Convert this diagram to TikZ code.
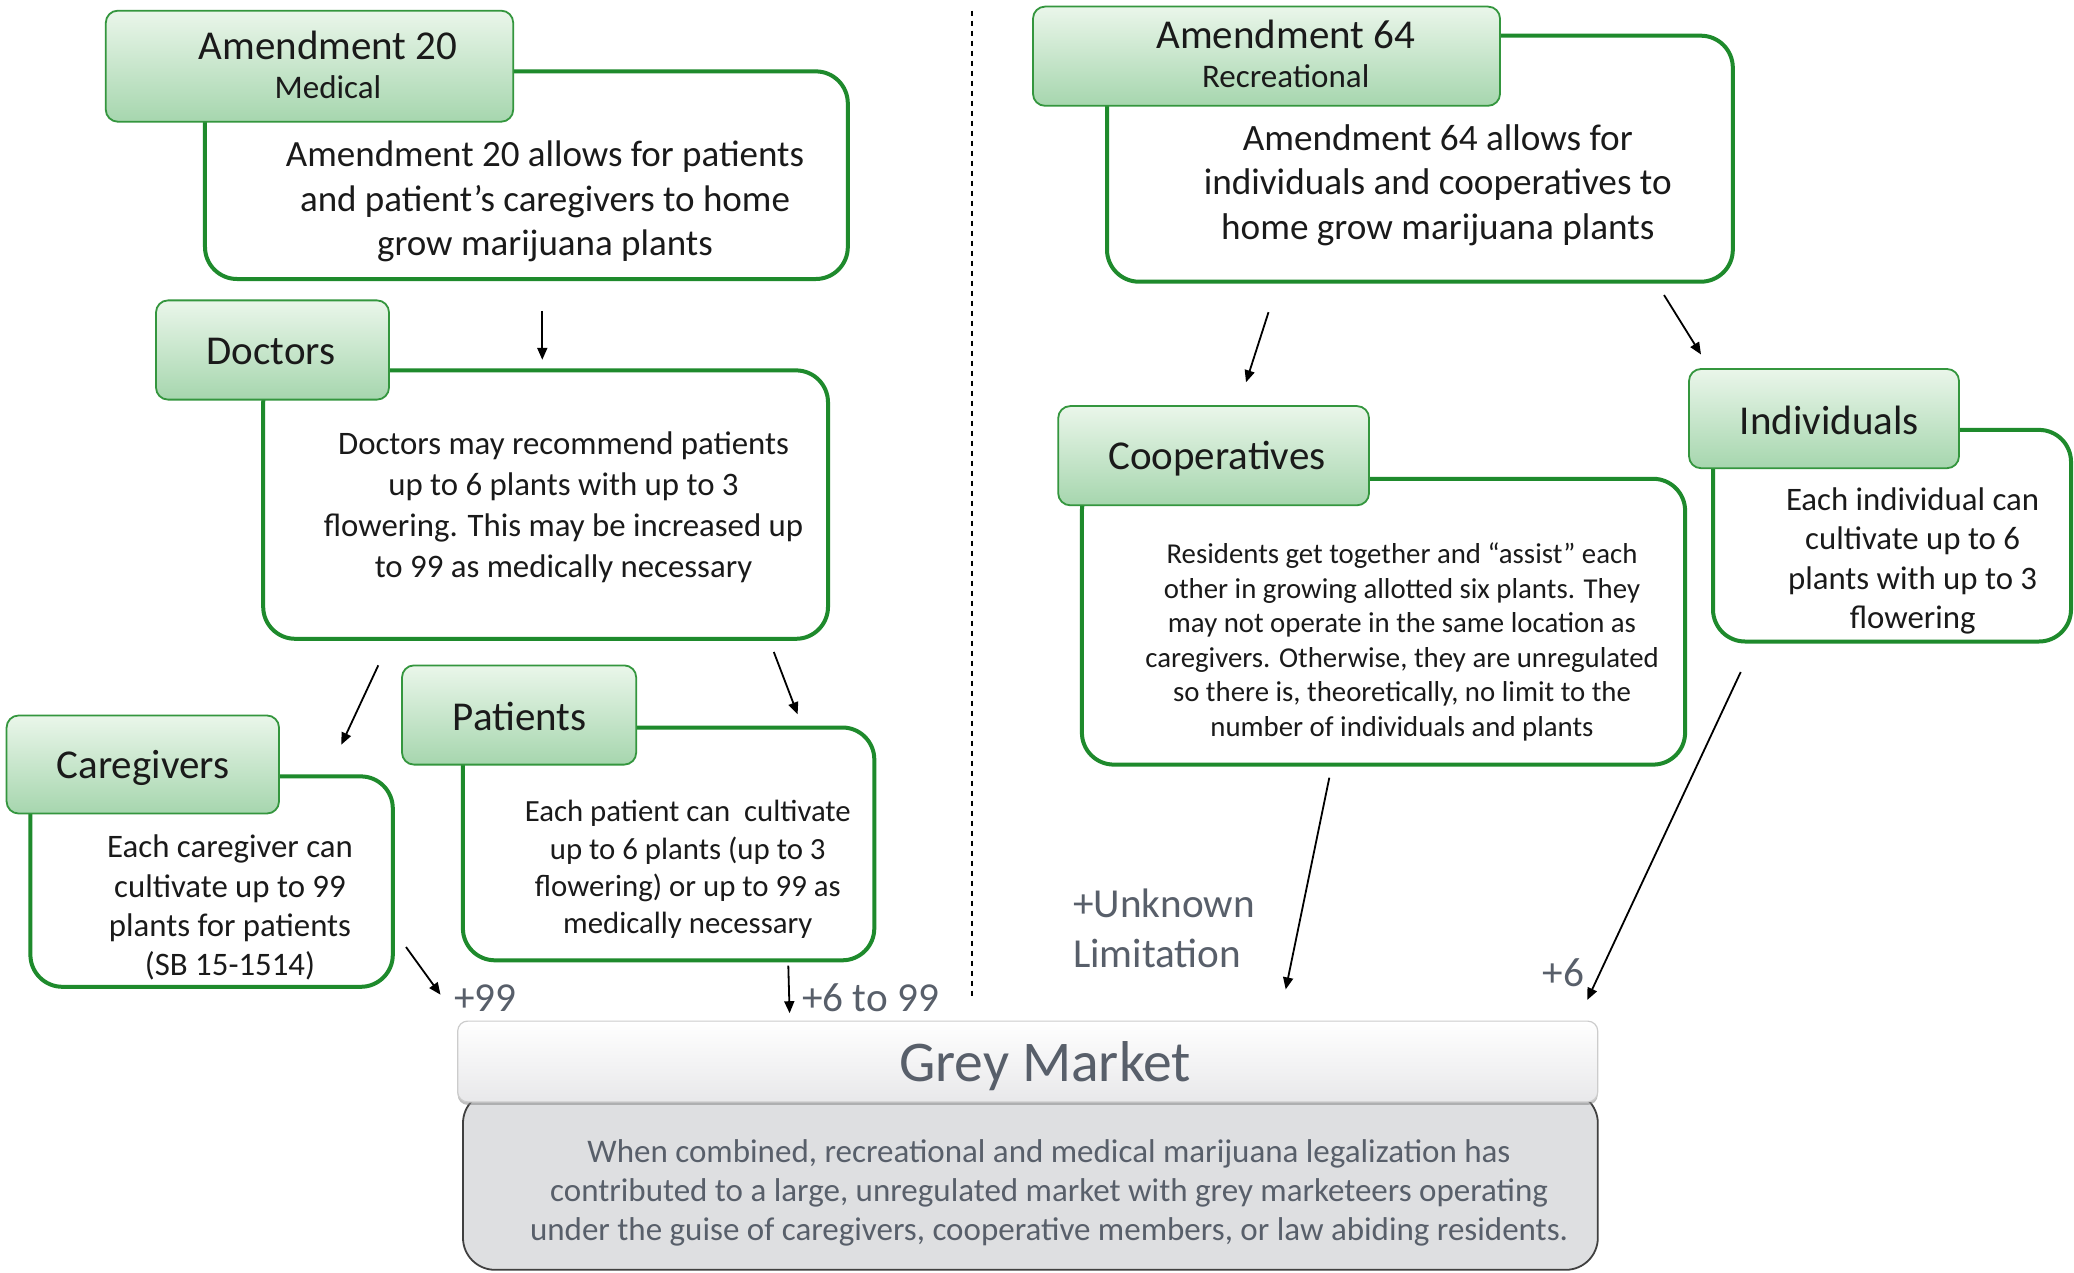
\documentclass[tikz,border=0pt]{standalone}
\usepackage{fontspec}
\setmainfont{Carlito}
\usetikzlibrary{arrows.meta,shadows}
\definecolor{gbord}{RGB}{30,138,44}
\definecolor{hbord}{RGB}{52,150,62}
\definecolor{htop}{RGB}{234,246,234}
\definecolor{hbot}{RGB}{166,214,174}
\definecolor{txt}{RGB}{26,26,26}
\definecolor{gtxt}{RGB}{88,95,106}
\definecolor{gfill}{RGB}{222,223,225}
\definecolor{gtop}{RGB}{255,255,255}
\definecolor{gbot}{RGB}{232,232,234}
\newcommand{\fs}[2]{\fontsize{#1bp}{#2bp}\selectfont}
\tikzset{
  bodybox/.style={draw=gbord, line width=2bp, rounded corners=16bp, fill=white, inner sep=0pt},
  headbox/.style={draw=hbord, line width=0.9bp, rounded corners=6bp, top color=htop, bottom color=hbot, inner sep=0pt},
  txtnode/.style={text=txt, align=center, inner sep=0pt},
  lbl/.style={text=gtxt, inner sep=0pt, font=\fs{20.6}{25}},
  arr/.style={-{Triangle[length=6bp,width=5bp]}, line width=0.9bp, black},
}
\begin{document}
\begin{tikzpicture}[x=0.5bp,y=-0.5bp]
\useasboundingbox[fill=white] (0,0) rectangle (2074,1273);

% dashed separator
\coordinate (dtop) at (972,10.6);
\coordinate (dbot) at (972,998.6);
\draw[dash pattern=on 2.5bp off 2.5bp, line width=0.6bp] (dtop) -- (dbot);

% ---------- Amendment 20
\node[bodybox, minimum width=321.4bp, minimum height=103.8bp] (a20b) at (526.4,175.2) {};
\node[headbox, minimum width=203.7bp, minimum height=55.5bp] (a20h) at (309.5,66.2) {};
\node[txtnode, font=\fs{20.5}{24}] (a20t1) at (328,45) {Amendment 20};
\node[txtnode, font=\fs{16.5}{20}] (a20t2) at (328,87) {Medical};
\node[txtnode, font=\fs{18.5}{22.2}] (a20x) at (545,201.5) {Amendment 20 allows for patients\\and patient’s caregivers to home\\grow marijuana plants};

% ---------- Doctors
\node[bodybox, minimum width=282.4bp, minimum height=134.2bp] (docb) at (545.6,504.6) {};
\node[headbox, minimum width=116.5bp, minimum height=49.6bp] (doch) at (272.5,350) {};
\node[txtnode, font=\fs{20.5}{24}] (doct) at (271,351.5) {Doctors};
\node[txtnode, font=\fs{16.4}{20.5}] (docx) at (563.5,507) {Doctors may recommend patients\\up to 6 plants with up to 3\\flowering. This may be increased up\\to 99 as medically necessary};

% ---------- Caregivers
\node[bodybox, minimum width=181.2bp, minimum height=105.2bp] (careb) at (211.6,881.6) {};
\node[headbox, minimum width=136.2bp, minimum height=49bp] (careh) at (142.8,764.5) {};
\node[txtnode, font=\fs{20.5}{24}] (caret) at (142.9,768) {Caregivers};
\node[txtnode, font=\fs{16.4}{19.6}] (carex) at (230,907.5) {Each caregiver can\\cultivate up to 99\\plants for patients\\(SB 15-1514)};

% ---------- Patients
\node[bodybox, minimum width=205.7bp, minimum height=116.4bp] (patb) at (668.6,843.9) {};
\node[headbox, minimum width=117.1bp, minimum height=49.6bp] (path) at (519.1,715) {};
\node[txtnode, font=\fs{20.5}{24}] (patt) at (519.8,716.6) {Patients};
\node[txtnode, font=\fs{15.4}{18.7}] (patx) at (687.8,869.5) {Each patient can\ \ cultivate\\up to 6 plants (up to 3\\flowering) or up to 99 as\\medically necessary};

% ---------- Grey Market
\node[draw=black!75, line width=0.9bp, rounded corners=16bp, fill=gfill, minimum width=567.4bp, minimum height=89.3bp, inner sep=0pt] (greyb) at (1030.4,1180.5) {};
\node[draw=black!20, line width=0.6bp, rounded corners=5bp, top color=gtop, bottom color=gbot, minimum width=570bp, minimum height=40.4bp, inner sep=0pt, drop shadow={shadow xshift=0bp, shadow yshift=-1.5bp, opacity=0.5}] (greyh) at (1027.7,1061.5) {};
\node[txtnode, text=gtxt, font=\fs{28.8}{32}] (greyt) at (1045,1066) {Grey Market};
\node[txtnode, text=gtxt, font=\fs{16.5}{19.5}] (greyx) at (1049,1192.5) {When combined, recreational and medical marijuana legalization has\\contributed to a large, unregulated market with grey marketeers operating\\under the guise of caregivers, cooperative members, or law abiding residents.};

% ---------- Amendment 64
\node[bodybox, minimum width=312.9bp, minimum height=123bp] (a64b) at (1419.9,158.7) {};
\node[headbox, minimum width=233.5bp, minimum height=49.6bp] (a64h) at (1266.5,56.2) {};
\node[txtnode, font=\fs{20.5}{24}] (a64t1) at (1285.7,34) {Amendment 64};
\node[txtnode, font=\fs{16.5}{20}] (a64t2) at (1285.7,76.5) {Recreational};
\node[txtnode, font=\fs{18.6}{22.2}] (a64x) at (1437.8,185) {Amendment 64 allows for\\individuals and cooperatives to\\home grow marijuana plants};

% ---------- Cooperatives
\node[bodybox, minimum width=301.6bp, minimum height=142.9bp] (coopb) at (1383.5,621.7) {};
\node[headbox, minimum width=155.4bp, minimum height=49.6bp] (cooph) at (1213.6,455.7) {};
\node[txtnode, font=\fs{20.5}{24}] (coopt) at (1216.9,459) {Cooperatives};
\node[txtnode, font=\fs{14.4}{17.3}] (coopx) at (1402,642) {Residents get together and “assist” each\\other in growing allotted six plants. They\\may not operate in the same location as\\caregivers. Otherwise, they are unregulated\\so there is, theoretically, no limit to the\\number of individuals and plants};

% ---------- Individuals
\node[bodybox, minimum width=179bp, minimum height=105.8bp] (indb) at (1892,535.7) {};
\node[headbox, minimum width=135bp, minimum height=49.6bp] (indh) at (1824,418.6) {};
\node[txtnode, font=\fs{20.5}{24}] (indt) at (1829.3,420.5) {Individuals};
\node[txtnode, font=\fs{16.4}{19.6}] (indx) at (1912.6,561) {Each individual can\\cultivate up to 6\\plants with up to 3\\flowering};

% ---------- labels
\node[lbl, anchor=west] (l99) at (453.7,998) {+99};
\node[lbl, anchor=west] (l699) at (801.6,998) {+6 to 99};
\node[lbl, anchor=west, align=left] (lunk) at (1072.7,928) {+Unknown\\Limitation};
\node[lbl] (l6) at (1563.4,972.5) {+6};

% ---------- arrows
\coordinate (p1s) at (542.3,310.8);  \coordinate (p1e) at (542.3,359.8);
\coordinate (p2s) at (378.3,665.3);  \coordinate (p2e) at (341.3,744.7);
\coordinate (p3s) at (773.8,652);    \coordinate (p3e) at (797.6,714.3);
\coordinate (p4s) at (406,947);      \coordinate (p4e) at (440.5,994.7);
\coordinate (p5s) at (788.3,965.6);  \coordinate (p5e) at (789.6,1013.2);
\coordinate (p6s) at (1268.5,312.2); \coordinate (p6e) at (1246,382.3);
\coordinate (p7s) at (1664,295);     \coordinate (p7e) at (1701,354.5);
\coordinate (p8s) at (1329.3,777.7); \coordinate (p8e) at (1285.7,989.4);
\coordinate (p9s) at (1740.7,672);   \coordinate (p9e) at (1587.2,1000);
\foreach \i in {1,...,9}{\draw[arr] (p\i s) -- (p\i e);}
\end{tikzpicture}
\end{document}
